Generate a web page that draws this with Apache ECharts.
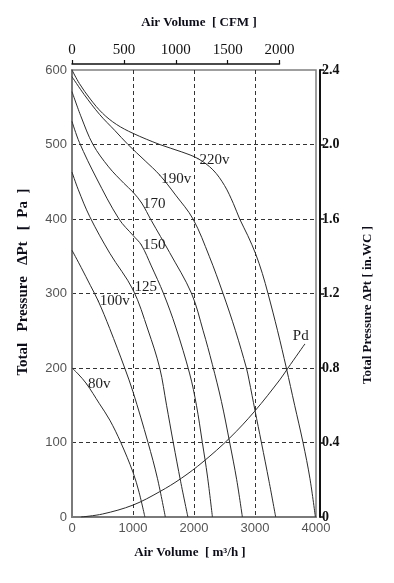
<!DOCTYPE html>
<html><head><meta charset="utf-8">
<script src="https://cdn.jsdelivr.net/npm/echarts@6/dist/echarts.min.js"></script>
<style>html,body{margin:0;padding:0;background:#fff}#c{width:394px;height:583px}</style>
</head><body><div id="c"></div>
<script>
// ---- data (air volume m3/h , total pressure Pa) ----
const curve80v  = [[0,200],[100,192],[236,179],[450,152],[620,130],[800,100],[1000,60],[1100,33],[1195,0]];
const curve100v = [[0,358],[150,335],[300,311],[430,290],[618,253],[864,200],[1000,168],[1246,100],[1400,52],[1530,0]];
const curve125  = [[0,463],[100,440],[292,403],[620,354],[1000,305],[1246,251],[1438,200],[1550,150],[1660,100],[1780,48],[1900,0]];
const curve150  = [[0,531],[120,503],[400,455],[770,400],[1000,378],[1138,365],[1300,337],[1500,300],[1700,255],[1930,192],[2040,150],[2137,100],[2220,55],[2302,0]];
const curve170  = [[0,571],[150,537],[344,500],[600,470],[850,448],[1000,436],[1138,422],[1300,398],[1600,355],[1960,300],[2150,250],[2300,205],[2450,155],[2585,100],[2700,50],[2793,0]];
const curve190v = [[0,591],[200,567],[456,540],[700,519],[918,500],[1200,478],[1438,459],[1700,432],[1984,400],[2250,350],[2476,300],[2680,250],[2859,200],[2902,184],[3000,143],[3105,100],[3230,48],[3339,0]];
const curve220v = [[0,600],[120,582],[300,561],[500,542],[728,527],[1000,515],[1438,500],[1800,490],[2066,481],[2310,466],[2500,445],[2644,421],[2749,400],[2880,378],[3007,354],[3120,327],[3213,300],[3370,250],[3514,200],[3650,150],[3787,100],[3900,52],[3990,0]];
const curvePd   = [[150,0],[500,4],[1000,16],[1438,34],[1793,52],[2148,74],[2585,106],[2995,142],[3405,184],[3541,200],[3815,232]];

const curveNames  = ['80v','100v','125','150','170','190v','220v'];
const curveData   = [curve80v, curve100v, curve125, curve150, curve170, curve190v, curve220v];
const labelIndex  = [2, 3, 4, 5, 6, 6, 8];
const labelShift  = [0, 0, -3, 0, 1, 4, 1];

const m3hTicks  = [0, 1000, 2000, 3000, 4000];
const cfmTicks  = [0, 500, 1000, 1500, 2000];
const paTicks   = [0, 100, 200, 300, 400, 500, 600];
const inwcTicks = [0, 0.4, 0.8, 1.2, 1.6, 2.0, 2.4];

const SERIF = '"Liberation Serif","Times New Roman",serif';
const SANS  = '"Liberation Sans",Arial,sans-serif';
const LINE = '#2b2b2b';

function curveSeries(name, pts, li, dy) {
  return {
    type: 'line', name: name, xAxisIndex: 0, yAxisIndex: 0,
    smooth: 0.35, showSymbol: true, symbol: 'none', silent: true, animation: false,
    lineStyle: { color: LINE, width: 1 }, z: 3,
    data: pts.map((p, i) => i === li ? {
      value: p, symbol: 'circle', symbolSize: 1, itemStyle: { color: LINE },
      label: { show: true, formatter: name, position: 'right', distance: 1, offset: [0, dy],
               fontFamily: SERIF, fontSize: 15, color: '#1e1e1e' }
    } : p)
  };
}

const series = curveNames.map((n, k) => curveSeries(n, curveData[k], labelIndex[k], labelShift[k]));
series.push({
  type: 'line', name: 'Pd', xAxisIndex: 0, yAxisIndex: 0, smooth: 0.35,
  showSymbol: true, symbol: 'none', silent: true, animation: false,
  lineStyle: { color: LINE, width: 1 }, z: 3,
  data: curvePd.map((p, i) => i === curvePd.length - 1 ? {
    value: p, symbol: 'circle', symbolSize: 1, itemStyle: { color: LINE },
    label: { show: true, formatter: 'Pd', position: 'top', distance: 0, offset: [-4, 0],
             fontFamily: SERIF, fontSize: 15, color: '#1e1e1e' }
  } : p)
});

const dashed = { show: true, showMinLine: false, showMaxLine: false,
  lineStyle: { color: '#333', width: 1, type: [4, 3] } };
const plain = v => String(v);

const chart = echarts.init(document.getElementById('c'), null, { renderer: 'canvas' });
chart.setOption({
  animation: false,
  backgroundColor: '#fff',
  grid: [
    { left: 72, right: 78, top: 70, bottom: 66, show: true, borderColor: '#808080', borderWidth: 1.5, backgroundColor: 'transparent' },
    { left: 72, width: 207.5, top: 64, height: 453, show: false }
  ],
  xAxis: [
    { type: 'value', gridIndex: 0, min: m3hTicks[0], max: m3hTicks[m3hTicks.length - 1], interval: 1000,
      axisLine: { show: true, lineStyle: { color: '#7a7a7a', width: 2 } },
      axisTick: { show: false },
      axisLabel: { fontFamily: SANS, fontSize: 13, color: '#555', margin: 5, formatter: plain },
      splitLine: dashed },
    { type: 'value', gridIndex: 1, position: 'top', min: cfmTicks[0], max: cfmTicks[cfmTicks.length - 1], interval: 500,
      axisLine: { show: true, onZero: false, lineStyle: { color: '#111', width: 1.5 } },
      axisTick: { show: true, length: 4, lineStyle: { color: '#111', width: 1.2 } },
      axisLabel: { fontFamily: SERIF, fontSize: 15, color: '#111', margin: 6, formatter: plain },
      splitLine: { show: false } }
  ],
  yAxis: [
    { type: 'value', gridIndex: 0, min: paTicks[0], max: paTicks[paTicks.length - 1], interval: 100,
      axisLine: { show: true, lineStyle: { color: '#7a7a7a', width: 2 } },
      axisTick: { show: false },
      axisLabel: { fontFamily: SANS, fontSize: 13, color: '#555', margin: 5, formatter: plain },
      splitLine: dashed },
    { type: 'value', gridIndex: 0, position: 'right', offset: 4, min: inwcTicks[0], max: inwcTicks[inwcTicks.length - 1], interval: 0.4,
      axisLine: { show: true, onZero: false, lineStyle: { color: '#111', width: 2 } },
      axisTick: { show: true, length: 4, lineStyle: { color: '#111', width: 1.5 } },
      axisLabel: { fontFamily: SERIF, fontSize: 14, fontWeight: 'bold', color: '#111', margin: 2,
                   formatter: v => v === 0 ? '0' : v.toFixed(1) },
      splitLine: { show: false } },
    { type: 'value', gridIndex: 1, min: 0, max: 1, show: false }
  ],
  graphic: [
    { type: 'text', x: 199, y: 23, silent: true,
      style: { text: 'Air Volume  [ CFM ]', font: 'bold 13px ' + SERIF, fill: '#0d0d1a', align: 'center', verticalAlign: 'middle' } },
    { type: 'text', x: 190, y: 553, silent: true,
      style: { text: 'Air Volume  [ m³/h ]', font: 'bold 13px ' + SERIF, fill: '#0d0d1a', align: 'center', verticalAlign: 'middle' } },
    { type: 'text', x: 23, y: 282, rotation: Math.PI / 2, silent: true,
      style: { text: 'Total   Pressure   ΔPt   [  Pa  ]', font: 'bold 15px ' + SERIF, fill: '#0d0d1a', align: 'center', verticalAlign: 'middle' } },
    { type: 'text', x: 368, y: 305, rotation: Math.PI / 2, silent: true,
      style: { text: 'Total Pressure ΔPt [ in.WC ]', font: 'bold 13px ' + SERIF, fill: '#0d0d1a', align: 'center', verticalAlign: 'middle' } }
  ],
  series: series
});
</script>
</body></html>
